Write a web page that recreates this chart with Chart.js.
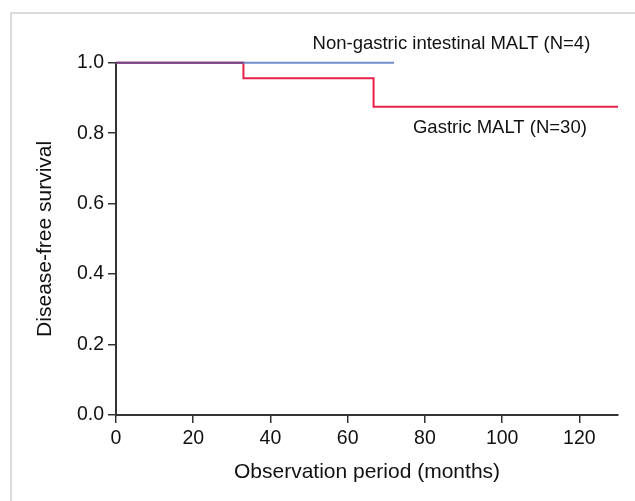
<!DOCTYPE html>
<html>
<head>
<meta charset="utf-8">
<script src="https://cdn.jsdelivr.net/npm/chart.js@4.4.0/dist/chart.umd.min.js"></script>
<style>
  html, body { margin: 0; padding: 0; background: #fff; overflow: hidden; }
  #frame { position: absolute; left: 10px; top: 12px; width: 700px; height: 600px; border: 2px solid #dcdcdc; }
  #wrap { position: absolute; left: 0; top: 0; width: 635px; height: 501px; }
</style>
</head>
<body>
<div id="frame"></div>
<div id="wrap"><canvas id="grafico" width="635" height="501"></canvas></div>
<script>
// Kaplan-Meier curves
const gastricTimes = [0, 33, 66.7, 130];
const gastricSurvival = [1, 0.956, 0.875, 0.875];
const intestinalTimes = [0, 72];
const intestinalSurvival = [1, 1];

const xTicks = [0, 20, 40, 60, 80, 100, 120];
const yTicks = [0, 0.2, 0.4, 0.6, 0.8, 1.0];

// curve labels, placed in data coordinates (months, survival)
const labelTexts = ['Non-gastric intestinal MALT (N=4)', 'Gastric MALT (N=30)'];
const labelX = [50.9, 76.9];
const labelY = [1.054, 0.815];

const fonte = 'Liberation Sans, Arial, sans-serif';
const corAzul = 'rgb(111, 143, 207)';
const corRoxa = 'rgb(106, 74, 142)';
const corVermelha = 'rgb(232, 32, 74)';

function pontos(xs, ys) {
    return xs.map((x, i) => ({ x: x, y: ys[i] }));
}

// blue line turns purple where it lies on top of the red one
function corIntestinal(context) {
    const chart = context.chart;
    const area = chart.chartArea;
    if (!area) return corAzul;
    const escalaX = chart.scales.x;
    const x0 = escalaX.getPixelForValue(0);
    const x1 = escalaX.getPixelForValue(intestinalTimes[intestinalTimes.length - 1]);
    const xc = escalaX.getPixelForValue(gastricTimes[1]);
    const grad = chart.ctx.createLinearGradient(x0, 0, x1, 0);
    const t = (xc - x0) / (x1 - x0);
    grad.addColorStop(0, corRoxa);
    grad.addColorStop(t, corRoxa);
    grad.addColorStop(Math.min(1, t + 0.001), corAzul);
    grad.addColorStop(1, corAzul);
    return grad;
}

const rotulosPlugin = {
    id: 'rotulos',
    afterDatasetsDraw(chart) {
        const ctx = chart.ctx;
        ctx.save();
        ctx.font = '18.5px ' + fonte;
        ctx.fillStyle = '#111';
        ctx.textAlign = 'left';
        ctx.textBaseline = 'middle';
        labelTexts.forEach((txt, i) => {
            ctx.fillText(txt, chart.scales.x.getPixelForValue(labelX[i]), chart.scales.y.getPixelForValue(labelY[i]));
        });
        ctx.restore();
    }
};

new Chart(document.getElementById('grafico').getContext('2d'), {
    type: 'line',
    data: {
        datasets: [{
            label: 'Gastric MALT (N=30)',
            data: pontos(gastricTimes, gastricSurvival),
            borderColor: corVermelha,
            borderWidth: 2,
            stepped: true,
            pointRadius: 0,
            fill: false,
            clip: false,
            order: 2
        }, {
            label: 'Non-gastric intestinal MALT (N=4)',
            data: pontos(intestinalTimes, intestinalSurvival),
            borderColor: corIntestinal,
            borderWidth: 2,
            stepped: true,
            pointRadius: 0,
            fill: false,
            clip: false,
            order: 1
        }]
    },
    options: {
        responsive: false,
        animation: false,
        events: [],
        layout: { padding: { left: 0, top: 62.7, right: 17, bottom: 0 } },
        plugins: { legend: { display: false }, tooltip: { enabled: false } },
        scales: {
            x: {
                type: 'linear',
                min: 0,
                max: 130,
                afterFit(scale) { scale.height = 86; },
                afterBuildTicks(scale) { scale.ticks = xTicks.map(v => ({ value: v })); },
                grid: { drawOnChartArea: false, color: '#333', lineWidth: 1.5, tickLength: 8 },
                border: { color: '#333', width: 2 },
                ticks: { color: '#111', font: { family: fonte, size: 19.5 }, padding: 4 },
                title: { display: true, text: 'Observation period (months)', color: '#111', font: { family: fonte, size: 21 }, padding: { top: 0, bottom: 16 } }
            },
            y: {
                type: 'linear',
                min: 0,
                max: 1,
                afterFit(scale) { scale.width = 116; },
                afterBuildTicks(scale) { scale.ticks = yTicks.map(v => ({ value: v })); },
                grid: { drawOnChartArea: false, color: '#333', lineWidth: 1.5, tickLength: 8 },
                border: { color: '#333', width: 2 },
                ticks: { color: '#111', font: { family: fonte, size: 19.5 }, padding: 4, callback: v => v.toFixed(1) },
                title: { display: true, text: 'Disease-free survival', color: '#111', font: { family: fonte, size: 21 }, padding: { top: 33, bottom: 0 } }
            }
        }
    },
    plugins: [rotulosPlugin]
});
</script>
</body>
</html>
